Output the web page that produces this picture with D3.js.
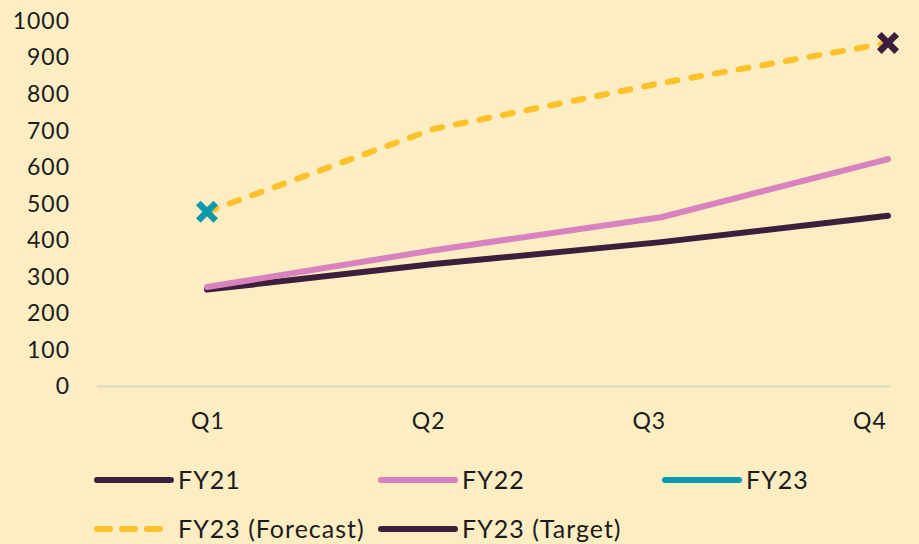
<!DOCTYPE html>
<html>
<head>
<meta charset="utf-8">
<script src="https://cdn.jsdelivr.net/npm/d3@7"></script>
<style>
  html, body { margin: 0; padding: 0; background: #fdedc2; }
  svg { display: block; }
  text { font-family: Lato, "Open Sans", sans-serif; fill: #1b1b1b; }
</style>
</head>
<body>
<svg id="chart" width="919" height="544"></svg>
<script>
// Quarterly data
const quarters = ["Q1", "Q2", "Q3", "Q4"];
const fy21 = [265, 335, 395, 467];
const fy22 = [272, 373, 463, 622];
const fy23 = [478, null, null, null];
const fy23Forecast = [478, 705, 830, 940];
const fy23Target = [null, null, null, 940];
const yTicks = [0, 100, 200, 300, 400, 500, 600, 700, 800, 900, 1000];

const seriesNames = ["FY21", "FY22", "FY23", "FY23 (Forecast)", "FY23 (Target)"];
const seriesColors = ["#3d1f3d", "#d882bf", "#0b9aab", "#fdc12a", "#3d1f3d"];

const W = 919, H = 544;
const svg = d3.select("#chart");
svg.append("rect").attr("width", W).attr("height", H).attr("fill", "#fdedc2");

const x = d3.scalePoint().domain(quarters).range([207, 888]);
const labelX = d3.scalePoint().domain(quarters).range([208, 870]);
const y = d3.scaleLinear().domain([0, 1000]).range([386.5, 21]);

// Y axis labels
const yAxis = svg.append("g")
  .attr("transform", "translate(97,0)")
  .call(d3.axisLeft(y).tickValues(yTicks).tickSize(0).tickPadding(27).tickFormat(d3.format("d")));
yAxis.select(".domain").remove();
yAxis.selectAll("text")
  .style("font-size", "23px")
  .style("font-family", "Lato, sans-serif")
  .style("letter-spacing", "1px")
  .attr("fill", "#1b1b1b");

// Category axis baseline
svg.append("line")
  .attr("x1", 97).attr("x2", 890)
  .attr("y1", y(0)).attr("y2", y(0))
  .attr("stroke", "#d5dcbf").attr("stroke-width", 2);

// Category labels
svg.append("g").selectAll("text").data(quarters).join("text")
  .attr("x", d => labelX(d))
  .attr("y", y(0) + 42)
  .attr("text-anchor", "middle")
  .style("font-size", "23px")
  .style("letter-spacing", "1px")
  .text(d => d);

const line = d3.line()
  .defined(d => d.v != null)
  .x(d => x(d.q))
  .y(d => y(d.v));

const toPts = arr => quarters.map((q, i) => ({ q, v: arr[i] }));

function drawLine(arr, color, dash) {
  svg.append("path")
    .datum(toPts(arr))
    .attr("d", line)
    .attr("fill", "none")
    .attr("stroke", color)
    .attr("stroke-width", 6)
    .attr("stroke-linecap", "round")
    .attr("stroke-linejoin", "round")
    .attr("stroke-dasharray", dash || null);
}

const xMark = d3.symbol().type(d3.symbolX).size(200);
function drawMarkers(arr, color) {
  svg.append("g").selectAll("path")
    .data(toPts(arr).filter(d => d.v != null))
    .join("path")
    .attr("transform", d => `translate(${x(d.q)},${y(d.v)})`)
    .attr("d", xMark)
    .attr("fill", "none")
    .attr("stroke", color)
    .attr("stroke-width", 6.5)
    .attr("stroke-linecap", "butt");
}

drawLine(fy21, seriesColors[0]);
drawLine(fy22, seriesColors[1]);
drawLine(fy23Forecast, seriesColors[3], "10,14");
drawMarkers(fy23, seriesColors[2]);
drawMarkers(fy23Target, seriesColors[4]);

// Legend
const legendPos = [
  { lx: 97, ly: 480 },
  { lx: 381, ly: 480 },
  { lx: 665, ly: 480 },
  { lx: 97, ly: 529 },
  { lx: 381, ly: 529 }
];
const legend = svg.append("g");
seriesNames.forEach((name, i) => {
  const p = legendPos[i];
  legend.append("line")
    .attr("x1", p.lx).attr("x2", p.lx + 74)
    .attr("y1", p.ly).attr("y2", p.ly)
    .attr("stroke", seriesColors[i])
    .attr("stroke-width", 6)
    .attr("stroke-linecap", "round")
    .attr("stroke-dasharray", i === 3 ? "13,12" : null);
  legend.append("text")
    .attr("x", p.lx + 81)
    .attr("y", p.ly)
    .attr("dy", "0.35em")
    .style("font-size", "25px")
    .style("letter-spacing", "1px")
    .text(name);
});
</script>
</body>
</html>
